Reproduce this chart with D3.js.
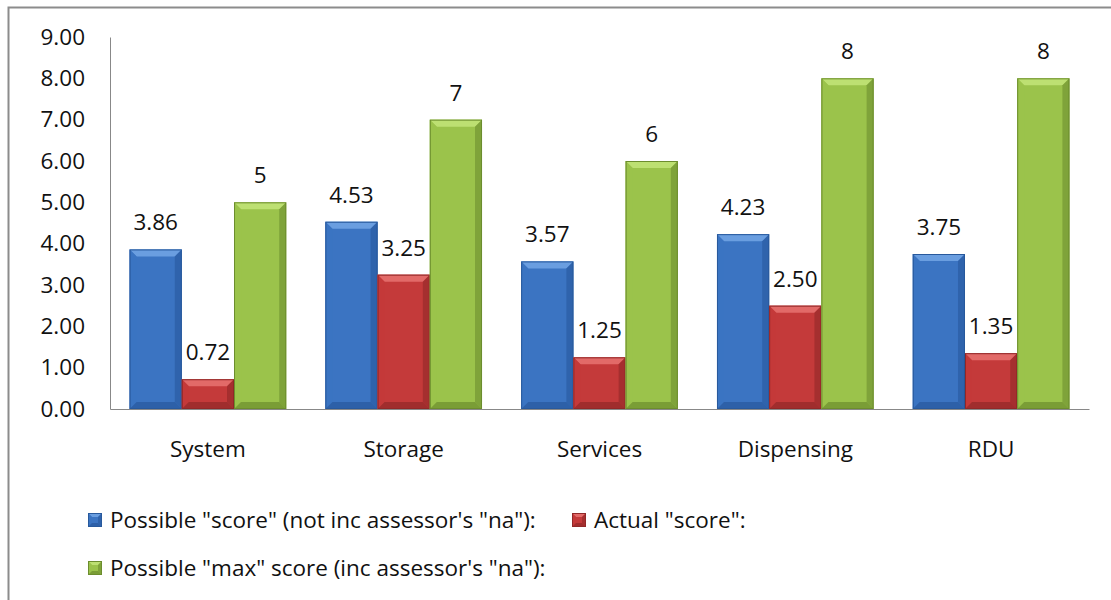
<!DOCTYPE html>
<html>
<head>
<meta charset="utf-8">
<script src="https://cdn.jsdelivr.net/npm/d3@7"></script>
<style>
  body { margin: 0; background: #fff; }
  svg text { font-family: "Open Sans", sans-serif; fill: #111; }
</style>
</head>
<body>
<svg id="chart"></svg>
<script>
// chart data
const categories = ["System", "Storage", "Services", "Dispensing", "RDU"];
const possibleScore = [3.86, 4.53, 3.57, 4.23, 3.75];
const actualScore = [0.72, 3.25, 1.25, 2.50, 1.35];
const maxScore = [5, 7, 6, 8, 8];
const seriesNames = [
    'Possible "score" (not inc assessor\'s "na"):',
    'Actual "score":',
    'Possible "max" score (inc assessor\'s "na"):'
];
const yTicks = [0, 1, 2, 3, 4, 5, 6, 7, 8, 9];

const width = 1111, height = 600;
const margin = { top: 37, right: 22, bottom: 191, left: 110 };
const fontSize = "22.5px";

// series styles (face, light bevel, dark bevel)
const styles = [
    { face: "#3b74c2", light: "#6a9ee0", dark: "#28599c", fmt: d3.format(".2f") },
    { face: "#c43a3a", light: "#e26a68", dark: "#912828", fmt: d3.format(".2f") },
    { face: "#9bc34b", light: "#bde072", dark: "#6c8d2e", fmt: d => String(d) }
];
const series = [possibleScore, actualScore, maxScore];

const svg = d3.select("#chart").attr("width", width).attr("height", height);

// outer frame
svg.append("rect")
    .attr("x", 8.5).attr("y", 7.5)
    .attr("width", width + 10).attr("height", height + 10)
    .attr("fill", "none").attr("stroke", "#8c8c8c").attr("stroke-width", 2);

const x = d3.scaleBand()
    .domain(categories)
    .range([margin.left, width - margin.right])
    .paddingInner(0.2).paddingOuter(0.1);

const xs = d3.scaleBand().domain([0, 1, 2]).range([0, x.bandwidth()]);

const y = d3.scaleLinear().domain([0, 9]).range([height - margin.bottom, margin.top]);

// y axis
const yAxis = svg.append("g")
    .attr("transform", `translate(${margin.left},0)`)
    .call(d3.axisLeft(y).tickValues(yTicks).tickFormat(d3.format(".2f")).tickSize(0).tickPadding(25));
yAxis.select(".domain").attr("stroke", "#888");
yAxis.selectAll("text").style("font-size", fontSize).attr("fill", "#111");

// x axis
const xAxis = svg.append("g")
    .attr("transform", `translate(0,${y(0)})`)
    .call(d3.axisBottom(x).tickSize(0).tickPadding(32));
xAxis.select(".domain").attr("stroke", "#888");
xAxis.selectAll("text").style("font-size", fontSize).attr("fill", "#111");

// bevelled bar
function drawBar(g, x0, y0, w, h, st, b) {
    b = Math.min(b, h / 2);
    g.append("rect").attr("x", x0).attr("y", y0).attr("width", w).attr("height", h)
        .attr("fill", st.face);
    const pts = (a) => a.map(p => p.join(",")).join(" ");
    g.append("polygon").attr("points", pts([[x0, y0], [x0 + w, y0], [x0 + w - b, y0 + b], [x0 + b, y0 + b]]))
        .attr("fill", st.light);
    g.append("polygon").attr("points", pts([[x0, y0], [x0 + b, y0 + b], [x0 + b, y0 + h - b], [x0, y0 + h]]))
        .attr("fill", st.face).attr("opacity", 0.9);
    g.append("polygon").attr("points", pts([[x0 + w, y0], [x0 + w, y0 + h], [x0 + w - b, y0 + h - b], [x0 + w - b, y0 + b]]))
        .attr("fill", st.dark).attr("opacity", 0.6);
    g.append("polygon").attr("points", pts([[x0, y0 + h], [x0 + w, y0 + h], [x0 + w - b, y0 + h - b], [x0 + b, y0 + h - b]]))
        .attr("fill", st.dark).attr("opacity", 0.7);
    g.append("rect").attr("x", x0 + 0.5).attr("y", y0 + 0.5).attr("width", w - 1).attr("height", h - 1)
        .attr("fill", "none").attr("stroke", st.dark).attr("stroke-width", 1);
}

const bars = svg.append("g");
series.forEach((vals, si) => {
    vals.forEach((v, ci) => {
        const bx = x(categories[ci]) + xs(si);
        const by = y(v);
        drawBar(bars, bx, by, xs.bandwidth(), y(0) - by, styles[si], 7);
        svg.append("text")
            .attr("x", bx + xs.bandwidth() / 2)
            .attr("y", by - 19)
            .attr("text-anchor", "middle")
            .style("font-size", fontSize)
            .text(styles[si].fmt(v));
    });
});

// legend
const legendPos = [[88, 520], [572, 520], [88, 568]];
seriesNames.forEach((name, i) => {
    const [lx, ly] = legendPos[i];
    const lg = svg.append("g");
    drawBar(lg, lx, ly - 7, 14, 14, styles[i], 4);
    lg.append("text").attr("x", lx + 22).attr("y", ly).attr("dy", "0.35em")
        .style("font-size", fontSize).text(name);
});
</script>
</body>
</html>
